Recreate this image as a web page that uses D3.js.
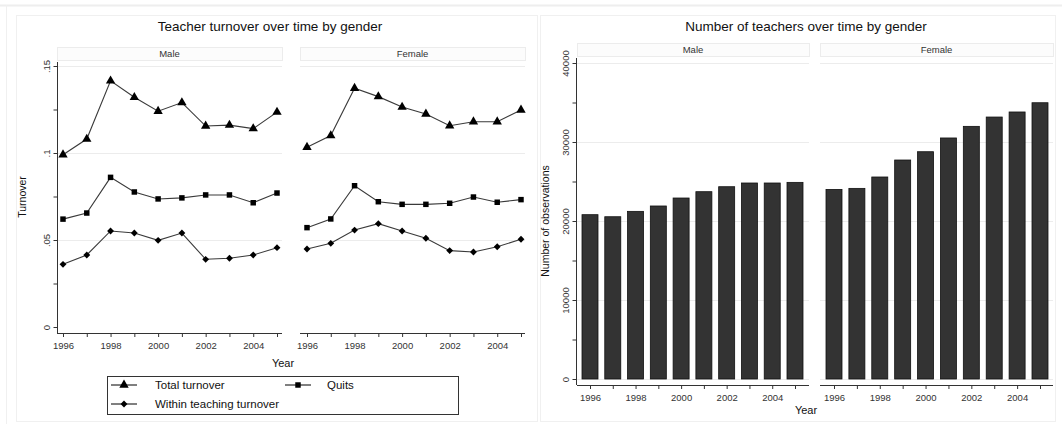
<!DOCTYPE html>
<html>
<head>
<meta charset="utf-8">
<script src="https://cdn.jsdelivr.net/npm/d3@7"></script>
<style>
  body { margin: 0; background: #fff; }
  text { font-family: 'Liberation Sans', Arial, sans-serif; }
</style>
</head>
<body>
<div id="chart"></div>
<script>
// years on the x axis
const years = [1996, 1997, 1998, 1999, 2000, 2001, 2002, 2003, 2004, 2005];
const yearLabels = [1996, 1998, 2000, 2002, 2004];

// turnover rates
const totalMale = [0.099, 0.108, 0.1415, 0.132, 0.124, 0.129, 0.1155, 0.116, 0.114, 0.1235];
const quitsMale = [0.062, 0.0655, 0.086, 0.0776, 0.0736, 0.0742, 0.0759, 0.0759, 0.0714, 0.077];
const withinMale = [0.036, 0.0414, 0.0552, 0.054, 0.0498, 0.054, 0.0389, 0.0395, 0.0414, 0.0456];
const totalFemale = [0.1033, 0.110, 0.1372, 0.1324, 0.1264, 0.1224, 0.1157, 0.118, 0.118, 0.1247];
const quitsFemale = [0.0571, 0.0621, 0.0812, 0.072, 0.0705, 0.0705, 0.0711, 0.0747, 0.0717, 0.0732];
const withinFemale = [0.0448, 0.0481, 0.0557, 0.0594, 0.0552, 0.051, 0.0439, 0.0431, 0.0461, 0.0504];

// number of teachers
const teachersMale = [20800, 20540, 21220, 21900, 22910, 23710, 24340, 24810, 24810, 24890];
const teachersFemale = [24000, 24130, 25570, 27720, 28770, 30510, 31980, 33160, 33800, 34970];

const turnoverTicks = [0, 0.025, 0.05, 0.075, 0.1, 0.125, 0.15];
const turnoverLabels = { 0: '0', 0.05: '.05', 0.1: '.1', 0.15: '.15' };
const countTicks = [0, 5000, 10000, 15000, 20000, 25000, 30000, 35000, 40000];
const countLabels = { 0: '0', 10000: '10000', 20000: '20000', 30000: '30000', 40000: '40000' };

const W = 1062, H = 426;
const INK = '#333';

const svg = d3.select('#chart').append('svg')
  .attr('width', W).attr('height', H);

// faint outer frames
svg.append('line').attr('x1', 0).attr('x2', W).attr('y1', 5.5).attr('y2', 5.5)
  .attr('stroke', '#eeeeee').attr('stroke-width', 2);
svg.append('line').attr('x1', 6.5).attr('x2', 6.5).attr('y1', 5).attr('y2', 424)
  .attr('stroke', '#f0f0f0');
svg.append('rect').attr('x', 16.5).attr('y', 15.5).attr('width', 521).attr('height', 406)
  .attr('fill', 'none').attr('stroke', '#f0f0f0');
svg.append('rect').attr('x', 540.5).attr('y', 15.5).attr('width', 515).attr('height', 406)
  .attr('fill', 'none').attr('stroke', '#f0f0f0');

function strip(x0, x1, y0, label) {
  svg.append('rect').attr('x', x0 + 0.5).attr('y', y0 + 0.5)
    .attr('width', x1 - x0).attr('height', 13)
    .attr('fill', '#fcfcfc').attr('stroke', '#ececec');
  svg.append('text').attr('x', (x0 + x1) / 2).attr('y', y0 + 10)
    .attr('text-anchor', 'middle').style('font-size', '9.5px').attr('fill', INK)
    .text(label);
}

function yAxis(g, scale, ticks, labels) {
  g.call(d3.axisLeft(scale).tickValues(ticks).tickSize(4)
    .tickFormat(d => labels[d] !== undefined ? labels[d] : ''));
  g.select('.domain').attr('stroke', INK);
  g.selectAll('.tick line').attr('stroke', INK);
  g.selectAll('.tick text')
    .attr('x', 0).attr('dy', 0)
    .attr('transform', 'translate(-8,0) rotate(-90)')
    .attr('text-anchor', 'middle')
    .style('font-size', '9.5px').attr('fill', INK);
}

function xAxis(g, scale) {
  g.call(d3.axisBottom(scale).tickValues(years).tickSize(4)
    .tickFormat(d => yearLabels.includes(d) ? String(d) : ''));
  g.select('.domain').remove();
  g.selectAll('.tick line').attr('stroke', INK);
  g.selectAll('.tick text').style('font-size', '9.5px').attr('fill', INK).attr('dy', '0.9em');
}

function grid(x0, x1, scale, values) {
  svg.append('g').selectAll('line').data(values).join('line')
    .attr('x1', x0).attr('x2', x1)
    .attr('y1', d => Math.round(scale(d)) + 0.5).attr('y2', d => Math.round(scale(d)) + 0.5)
    .attr('stroke', '#ececec');
}

// ---------- left chart: turnover ----------
svg.append('text').attr('x', 270).attr('y', 31).attr('text-anchor', 'middle')
  .style('font-size', '13.5px').attr('fill', '#111')
  .text('Teacher turnover over time by gender');

const yT = d3.scaleLinear().domain([0, 0.15]).range([327, 66]);
const leftPanels = [
  { label: 'Male', x0: 57, x1: 282, r: [63, 277], series: [totalMale, quitsMale, withinMale] },
  { label: 'Female', x0: 300, x1: 525, r: [307, 521], series: [totalFemale, quitsFemale, withinFemale] },
];
const symbols = [d3.symbolTriangle, d3.symbolSquare, d3.symbolDiamond2];
const symSize = [38, 30, 30];

leftPanels.forEach((p, i) => {
  strip(p.x0, p.x1, 47, p.label);
  grid(p.x0, p.x1, yT, [0.05, 0.1, 0.15]);
  const x = d3.scaleLinear().domain([1996, 2005]).range(p.r);
  svg.append('line').attr('x1', p.x0).attr('x2', p.x1).attr('y1', 333.5).attr('y2', 333.5)
    .attr('stroke', INK);
  xAxis(svg.append('g').attr('transform', 'translate(0,333)'), x);
  if (i === 0) {
    const g = svg.append('g').attr('transform', 'translate(57.5,0)');
    yAxis(g, yT, turnoverTicks, turnoverLabels);
    g.select('.domain').attr('d', 'M0,62V333');
  }
  const line = d3.line().x((d, k) => x(years[k])).y(d => yT(d));
  p.series.forEach((s, j) => {
    svg.append('path').datum(s).attr('d', line)
      .attr('fill', 'none').attr('stroke', '#3a3a3a').attr('stroke-width', 1.1);
    svg.append('g').selectAll('path').data(s).join('path')
      .attr('transform', (d, k) => `translate(${x(years[k])},${yT(d)})`)
      .attr('d', d3.symbol(symbols[j], symSize[j]))
      .attr('fill', '#000');
  });
});

svg.append('text').attr('transform', 'translate(26,197) rotate(-90)')
  .attr('text-anchor', 'middle').style('font-size', '10.5px').attr('fill', '#111')
  .text('Turnover');
svg.append('text').attr('x', 283).attr('y', 367).attr('text-anchor', 'middle')
  .style('font-size', '11px').attr('fill', '#111').text('Year');

// legend
const legend = svg.append('g');
legend.append('rect').attr('x', 107.5).attr('y', 376.5).attr('width', 351).attr('height', 38)
  .attr('fill', '#fff').attr('stroke', INK);
const legendItems = [
  { label: 'Total turnover', sym: 0, lx: 111, tx: 155, y: 385 },
  { label: 'Quits', sym: 1, lx: 285, tx: 327, y: 385 },
  { label: 'Within teaching turnover', sym: 2, lx: 111, tx: 155, y: 404 },
];
legendItems.forEach(it => {
  legend.append('line').attr('x1', it.lx).attr('x2', it.lx + 26)
    .attr('y1', it.y).attr('y2', it.y).attr('stroke', '#000');
  legend.append('path').attr('transform', `translate(${it.lx + 13},${it.y})`)
    .attr('d', d3.symbol(symbols[it.sym], symSize[it.sym])).attr('fill', '#000');
  legend.append('text').attr('x', it.tx).attr('y', it.y + 4)
    .style('font-size', '11.5px').attr('fill', '#111').text(it.label);
});

// ---------- right chart: number of teachers ----------
svg.append('text').attr('x', 806).attr('y', 31).attr('text-anchor', 'middle')
  .style('font-size', '13.5px').attr('fill', '#111')
  .text('Number of teachers over time by gender');

const yC = d3.scaleLinear().domain([0, 40000]).range([379, 63]);
const rightPanels = [
  { label: 'Male', x0: 577, x1: 809, r: [590, 795], values: teachersMale },
  { label: 'Female', x0: 820, x1: 1053, r: [834, 1040], values: teachersFemale },
];
rightPanels.forEach((p, i) => {
  strip(p.x0, p.x1, 43, p.label);
  grid(p.x0, p.x1, yC, [0, 10000, 20000, 30000, 40000]);
  const x = d3.scaleLinear().domain([1996, 2005]).range(p.r);
  svg.append('g').selectAll('rect').data(p.values).join('rect')
    .attr('x', (d, k) => x(years[k]) - 8).attr('width', 16)
    .attr('y', d => yC(d)).attr('height', d => yC(0) - yC(d))
    .attr('fill', '#333').attr('stroke', '#111').attr('stroke-width', 0.8);
  svg.append('line').attr('x1', p.x0).attr('x2', p.x1).attr('y1', 385.5).attr('y2', 385.5)
    .attr('stroke', INK);
  xAxis(svg.append('g').attr('transform', 'translate(0,385)'), x);
  if (i === 0) {
    const g = svg.append('g').attr('transform', 'translate(576.5,0)');
    yAxis(g, yC, countTicks, countLabels);
    g.select('.domain').attr('d', 'M0,58V385');
  }
});

svg.append('text').attr('transform', 'translate(549,221) rotate(-90)')
  .attr('text-anchor', 'middle').style('font-size', '10.5px').attr('fill', '#111')
  .text('Number of observations');
svg.append('text').attr('x', 806).attr('y', 414).attr('text-anchor', 'middle')
  .style('font-size', '11px').attr('fill', '#111').text('Year');
</script>
</body>
</html>
